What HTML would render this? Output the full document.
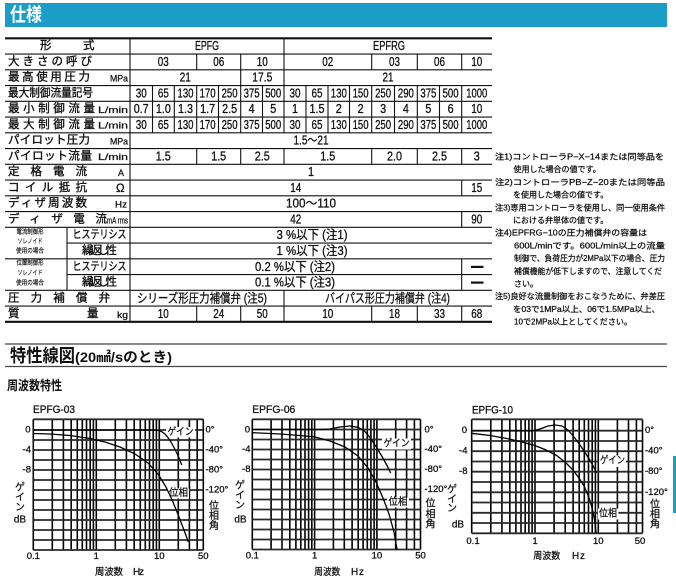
<!DOCTYPE html>
<html><head><meta charset="utf-8"><style>
html,body{margin:0;padding:0;background:#fff;}
svg{display:block}
text{font-family:"Liberation Sans","Noto Sans CJK JP",sans-serif;fill:#111;dominant-baseline:central}
.l{font-size:11.5px;stroke:#111;stroke-width:0.35px}
.n{font-size:12.5px;text-anchor:middle;stroke:#111;stroke-width:0.3px}
.u{font-size:9px;stroke:#111;stroke-width:0.25px}
.s{font-size:6.5px;text-anchor:middle;stroke:#111;stroke-width:0.15px}
.nt{font-size:8px;stroke:#111;stroke-width:0.25px}
.ax{font-size:9.5px;stroke:#111;stroke-width:0.3px}
.c{text-anchor:middle}
.e{text-anchor:end}
.cv{fill:none;stroke:#000;stroke-width:1.3;stroke-linejoin:round}
.lb{font-size:10px;text-anchor:middle;stroke:#111;stroke-width:0.25px}
.gv line{stroke:#000;stroke-width:1.6}
.gh line{stroke:#2a2a2a;stroke-width:1.8}
</style></head><body>
<svg width="676" height="585" viewBox="0 0 676 585" xmlns="http://www.w3.org/2000/svg">
<rect width="676" height="585" fill="#fff"/>
<!-- header bar -->
<rect x="5" y="3" width="662" height="24" fill="#1b9dc8"/>
<text x="10" y="15.5" style="font-size:19px;font-weight:bold;fill:#fff" textLength="32" lengthAdjust="spacingAndGlyphs">仕様</text>

<!-- table lines -->
<g stroke="#111" stroke-width="1.1">
<line x1="5" y1="38.3" x2="492" y2="38.3" stroke-width="2.2"/>
<line x1="5" y1="54.05" x2="492" y2="54.05"/>
<line x1="5" y1="69.8" x2="492" y2="69.8"/>
<line x1="5" y1="85.55" x2="492" y2="85.55"/>
<line x1="5" y1="101.3" x2="492" y2="101.3"/>
<line x1="5" y1="117.05" x2="492" y2="117.05"/>
<line x1="5" y1="132.8" x2="492" y2="132.8"/>
<line x1="5" y1="148.55" x2="492" y2="148.55"/>
<line x1="5" y1="164.3" x2="492" y2="164.3"/>
<line x1="5" y1="180.05" x2="492" y2="180.05"/>
<line x1="5" y1="195.8" x2="492" y2="195.8"/>
<line x1="5" y1="211.55" x2="492" y2="211.55"/>
<line x1="5" y1="227.3" x2="492" y2="227.3"/>
<line x1="67" y1="243.05" x2="492" y2="243.05"/>
<line x1="5" y1="258.8" x2="492" y2="258.8"/>
<line x1="67" y1="274.55" x2="492" y2="274.55"/>
<line x1="5" y1="290.3" x2="492" y2="290.3"/>
<line x1="5" y1="306.05" x2="492" y2="306.05"/>
<line x1="5" y1="321.8" x2="492" y2="321.8" stroke-width="2.2"/>
<line x1="130" y1="38.3" x2="130" y2="321.8"/>
<line x1="67" y1="227.3" x2="67" y2="290.3"/>
<line x1="284" y1="38.3" x2="284" y2="54.05"/>
<line x1="196.7" y1="54.05" x2="196.7" y2="69.8"/>
<line x1="240.7" y1="54.05" x2="240.7" y2="69.8"/>
<line x1="284" y1="54.05" x2="284" y2="69.8"/>
<line x1="371.7" y1="54.05" x2="371.7" y2="69.8"/>
<line x1="417.3" y1="54.05" x2="417.3" y2="69.8"/>
<line x1="461.7" y1="54.05" x2="461.7" y2="69.8"/>
<line x1="240.7" y1="69.8" x2="240.7" y2="85.55"/>
<line x1="284" y1="69.8" x2="284" y2="85.55"/>
<line x1="152.5" y1="85.55" x2="152.5" y2="132.8"/>
<line x1="174.3" y1="85.55" x2="174.3" y2="132.8"/>
<line x1="196.7" y1="85.55" x2="196.7" y2="132.8"/>
<line x1="218.5" y1="85.55" x2="218.5" y2="132.8"/>
<line x1="240.7" y1="85.55" x2="240.7" y2="132.8"/>
<line x1="262.5" y1="85.55" x2="262.5" y2="132.8"/>
<line x1="284" y1="85.55" x2="284" y2="132.8"/>
<line x1="306" y1="85.55" x2="306" y2="132.8"/>
<line x1="328" y1="85.55" x2="328" y2="132.8"/>
<line x1="349.5" y1="85.55" x2="349.5" y2="132.8"/>
<line x1="371.7" y1="85.55" x2="371.7" y2="132.8"/>
<line x1="394.5" y1="85.55" x2="394.5" y2="132.8"/>
<line x1="417.3" y1="85.55" x2="417.3" y2="132.8"/>
<line x1="439.5" y1="85.55" x2="439.5" y2="132.8"/>
<line x1="461.7" y1="85.55" x2="461.7" y2="132.8"/>
<line x1="196.7" y1="148.55" x2="196.7" y2="164.3"/>
<line x1="240.7" y1="148.55" x2="240.7" y2="164.3"/>
<line x1="284" y1="148.55" x2="284" y2="164.3"/>
<line x1="371.7" y1="148.55" x2="371.7" y2="164.3"/>
<line x1="417.3" y1="148.55" x2="417.3" y2="164.3"/>
<line x1="461.7" y1="148.55" x2="461.7" y2="164.3"/>
<line x1="461.7" y1="180.05" x2="461.7" y2="195.8"/>
<line x1="461.7" y1="211.55" x2="461.7" y2="227.3"/>
<line x1="461.7" y1="258.8" x2="461.7" y2="290.3"/>
<line x1="284" y1="290.3" x2="284" y2="306.05"/>
<line x1="196.7" y1="306.05" x2="196.7" y2="321.8"/>
<line x1="240.7" y1="306.05" x2="240.7" y2="321.8"/>
<line x1="284" y1="306.05" x2="284" y2="321.8"/>
<line x1="371.7" y1="306.05" x2="371.7" y2="321.8"/>
<line x1="417.3" y1="306.05" x2="417.3" y2="321.8"/>
<line x1="461.7" y1="306.05" x2="461.7" y2="321.8"/>
</g>

<!-- labels -->
<text class="l" x="40" y="46.2">形</text><text class="l" x="83" y="46.2">式</text>
<text class="l" x="8" y="61.9" textLength="84" lengthAdjust="spacing">大きさの呼び</text>
<text class="l" x="8" y="77.7" textLength="82" lengthAdjust="spacing">最高使用圧力</text>
<text class="u" x="110" y="78.5" textLength="18" lengthAdjust="spacingAndGlyphs">MPa</text>
<text class="l" x="8" y="93.4" textLength="85" lengthAdjust="spacingAndGlyphs">最大制御流量記号</text>
<text class="l" x="8" y="109.2" textLength="87" lengthAdjust="spacing">最小制御流量</text>
<text class="u" x="98" y="110" textLength="30" lengthAdjust="spacingAndGlyphs">L/min</text>
<text class="l" x="8" y="124.9" textLength="87" lengthAdjust="spacing">最大制御流量</text>
<text class="u" x="98" y="125.7" textLength="30" lengthAdjust="spacingAndGlyphs">L/min</text>
<text class="l" x="8" y="140.7" textLength="82" lengthAdjust="spacing">パイロット圧力</text>
<text class="u" x="110" y="141.5" textLength="18" lengthAdjust="spacingAndGlyphs">MPa</text>
<text class="l" x="8" y="156.4" textLength="84" lengthAdjust="spacing">パイロット流量</text>
<text class="u" x="98" y="157.2" textLength="30" lengthAdjust="spacingAndGlyphs">L/min</text>
<text class="l" x="8" y="172.2" textLength="79" lengthAdjust="spacing">定格電流</text>
<text class="u" x="118" y="173">A</text>
<text class="l" x="8" y="188" textLength="79" lengthAdjust="spacing">コイル抵抗</text>
<text class="l" x="116" y="189">Ω</text>
<text class="l" x="8" y="203.7" textLength="79" lengthAdjust="spacing">ディザ周波数</text>
<text class="u" x="115" y="204.5" textLength="12" lengthAdjust="spacingAndGlyphs">Hz</text>
<text class="l" x="8" y="219.5" textLength="99" lengthAdjust="spacing">ディザ電流</text>
<text class="u" x="107" y="220.3" textLength="21" lengthAdjust="spacingAndGlyphs">mA rms</text>
<text class="s" x="30" y="232" textLength="27" lengthAdjust="spacingAndGlyphs">電流制御形</text>
<text class="s" x="30" y="241.5" textLength="25" lengthAdjust="spacingAndGlyphs">ソレノイド</text>
<text class="s" x="30" y="251" textLength="28" lengthAdjust="spacingAndGlyphs">使用の場合</text>
<text class="l c" x="99.5" y="235.2" textLength="54" lengthAdjust="spacingAndGlyphs">ヒステリシス</text>
<text class="l c" x="99.5" y="251" textLength="35" lengthAdjust="spacing">繰返し性</text>
<text class="s" x="30" y="263" textLength="27" lengthAdjust="spacingAndGlyphs">位置制御形</text>
<text class="s" x="30" y="273" textLength="25" lengthAdjust="spacingAndGlyphs">ソレノイド</text>
<text class="s" x="30" y="283" textLength="28" lengthAdjust="spacingAndGlyphs">使用の場合</text>
<text class="l c" x="99.5" y="266.8" textLength="54" lengthAdjust="spacingAndGlyphs">ヒステリシス</text>
<text class="l c" x="99.5" y="282.5" textLength="35" lengthAdjust="spacing">繰返し性</text>
<text class="l" x="8" y="298.3" textLength="102" lengthAdjust="spacing">圧力補償弁</text>
<text class="l" x="8" y="314">質</text><text class="l" x="87" y="314">量</text>
<text class="u" x="117" y="315" textLength="11" lengthAdjust="spacingAndGlyphs">kg</text>

<!-- data -->
<text class="n" x="207" y="46.2" textLength="24" lengthAdjust="spacingAndGlyphs">EPFG</text>
<text class="n" x="389" y="46.2" textLength="32" lengthAdjust="spacingAndGlyphs">EPFRG</text>
<text class="n" x="163.3" y="61.9" textLength="11" lengthAdjust="spacingAndGlyphs">03</text>
<text class="n" x="218.7" y="61.9" textLength="11" lengthAdjust="spacingAndGlyphs">06</text>
<text class="n" x="262.3" y="61.9" textLength="11" lengthAdjust="spacingAndGlyphs">10</text>
<text class="n" x="327.8" y="61.9" textLength="11" lengthAdjust="spacingAndGlyphs">02</text>
<text class="n" x="394.5" y="61.9" textLength="11" lengthAdjust="spacingAndGlyphs">03</text>
<text class="n" x="439.5" y="61.9" textLength="11" lengthAdjust="spacingAndGlyphs">06</text>
<text class="n" x="476.8" y="61.9" textLength="11" lengthAdjust="spacingAndGlyphs">10</text>
<text class="n" x="185.3" y="77.7" textLength="11" lengthAdjust="spacingAndGlyphs">21</text>
<text class="n" x="262.3" y="77.7" textLength="20" lengthAdjust="spacingAndGlyphs">17.5</text>
<text class="n" x="388" y="77.7" textLength="11" lengthAdjust="spacingAndGlyphs">21</text>
<text class="n" x="141.2" y="93.4" textLength="11" lengthAdjust="spacingAndGlyphs">30</text>
<text class="n" x="163.4" y="93.4" textLength="11" lengthAdjust="spacingAndGlyphs">65</text>
<text class="n" x="185.5" y="93.4" textLength="16" lengthAdjust="spacingAndGlyphs">130</text>
<text class="n" x="207.6" y="93.4" textLength="16" lengthAdjust="spacingAndGlyphs">170</text>
<text class="n" x="229.6" y="93.4" textLength="16" lengthAdjust="spacingAndGlyphs">250</text>
<text class="n" x="251.6" y="93.4" textLength="16" lengthAdjust="spacingAndGlyphs">375</text>
<text class="n" x="273.2" y="93.4" textLength="16" lengthAdjust="spacingAndGlyphs">500</text>
<text class="n" x="295" y="93.4" textLength="11" lengthAdjust="spacingAndGlyphs">30</text>
<text class="n" x="317" y="93.4" textLength="11" lengthAdjust="spacingAndGlyphs">65</text>
<text class="n" x="338.8" y="93.4" textLength="16" lengthAdjust="spacingAndGlyphs">130</text>
<text class="n" x="360.6" y="93.4" textLength="16" lengthAdjust="spacingAndGlyphs">150</text>
<text class="n" x="383.1" y="93.4" textLength="16" lengthAdjust="spacingAndGlyphs">250</text>
<text class="n" x="405.9" y="93.4" textLength="16" lengthAdjust="spacingAndGlyphs">290</text>
<text class="n" x="428.4" y="93.4" textLength="16" lengthAdjust="spacingAndGlyphs">375</text>
<text class="n" x="450.6" y="93.4" textLength="16" lengthAdjust="spacingAndGlyphs">500</text>
<text class="n" x="476.8" y="93.4" textLength="21" lengthAdjust="spacingAndGlyphs">1000</text>
<text class="n" x="141.2" y="109.2" textLength="15" lengthAdjust="spacingAndGlyphs">0.7</text>
<text class="n" x="163.4" y="109.2" textLength="15" lengthAdjust="spacingAndGlyphs">1.0</text>
<text class="n" x="185.5" y="109.2" textLength="15" lengthAdjust="spacingAndGlyphs">1.3</text>
<text class="n" x="207.6" y="109.2" textLength="15" lengthAdjust="spacingAndGlyphs">1.7</text>
<text class="n" x="229.6" y="109.2" textLength="15" lengthAdjust="spacingAndGlyphs">2.5</text>
<text class="n" x="251.6" y="109.2" textLength="6" lengthAdjust="spacingAndGlyphs">4</text>
<text class="n" x="273.2" y="109.2" textLength="6" lengthAdjust="spacingAndGlyphs">5</text>
<text class="n" x="295" y="109.2" textLength="6" lengthAdjust="spacingAndGlyphs">1</text>
<text class="n" x="317" y="109.2" textLength="15" lengthAdjust="spacingAndGlyphs">1.5</text>
<text class="n" x="338.8" y="109.2" textLength="6" lengthAdjust="spacingAndGlyphs">2</text>
<text class="n" x="360.6" y="109.2" textLength="6" lengthAdjust="spacingAndGlyphs">2</text>
<text class="n" x="383.1" y="109.2" textLength="6" lengthAdjust="spacingAndGlyphs">3</text>
<text class="n" x="405.9" y="109.2" textLength="6" lengthAdjust="spacingAndGlyphs">4</text>
<text class="n" x="428.4" y="109.2" textLength="6" lengthAdjust="spacingAndGlyphs">5</text>
<text class="n" x="450.6" y="109.2" textLength="6" lengthAdjust="spacingAndGlyphs">6</text>
<text class="n" x="476.8" y="109.2" textLength="11" lengthAdjust="spacingAndGlyphs">10</text>
<text class="n" x="141.2" y="124.9" textLength="11" lengthAdjust="spacingAndGlyphs">30</text>
<text class="n" x="163.4" y="124.9" textLength="11" lengthAdjust="spacingAndGlyphs">65</text>
<text class="n" x="185.5" y="124.9" textLength="16" lengthAdjust="spacingAndGlyphs">130</text>
<text class="n" x="207.6" y="124.9" textLength="16" lengthAdjust="spacingAndGlyphs">170</text>
<text class="n" x="229.6" y="124.9" textLength="16" lengthAdjust="spacingAndGlyphs">250</text>
<text class="n" x="251.6" y="124.9" textLength="16" lengthAdjust="spacingAndGlyphs">375</text>
<text class="n" x="273.2" y="124.9" textLength="16" lengthAdjust="spacingAndGlyphs">500</text>
<text class="n" x="295" y="124.9" textLength="11" lengthAdjust="spacingAndGlyphs">30</text>
<text class="n" x="317" y="124.9" textLength="11" lengthAdjust="spacingAndGlyphs">65</text>
<text class="n" x="338.8" y="124.9" textLength="16" lengthAdjust="spacingAndGlyphs">130</text>
<text class="n" x="360.6" y="124.9" textLength="16" lengthAdjust="spacingAndGlyphs">150</text>
<text class="n" x="383.1" y="124.9" textLength="16" lengthAdjust="spacingAndGlyphs">250</text>
<text class="n" x="405.9" y="124.9" textLength="16" lengthAdjust="spacingAndGlyphs">290</text>
<text class="n" x="428.4" y="124.9" textLength="16" lengthAdjust="spacingAndGlyphs">375</text>
<text class="n" x="450.6" y="124.9" textLength="16" lengthAdjust="spacingAndGlyphs">500</text>
<text class="n" x="476.8" y="124.9" textLength="21" lengthAdjust="spacingAndGlyphs">1000</text>
<text class="n" x="311" y="140.7" textLength="35" lengthAdjust="spacingAndGlyphs">1.5〜21</text>
<text class="n" x="163.3" y="156.4" textLength="15" lengthAdjust="spacingAndGlyphs">1.5</text>
<text class="n" x="218.7" y="156.4" textLength="15" lengthAdjust="spacingAndGlyphs">1.5</text>
<text class="n" x="262.3" y="156.4" textLength="15" lengthAdjust="spacingAndGlyphs">2.5</text>
<text class="n" x="327.8" y="156.4" textLength="15" lengthAdjust="spacingAndGlyphs">1.5</text>
<text class="n" x="394.5" y="156.4" textLength="15" lengthAdjust="spacingAndGlyphs">2.0</text>
<text class="n" x="439.5" y="156.4" textLength="15" lengthAdjust="spacingAndGlyphs">2.5</text>
<text class="n" x="476.8" y="156.4" textLength="6" lengthAdjust="spacingAndGlyphs">3</text>
<text class="n" x="311" y="172.2" textLength="6" lengthAdjust="spacingAndGlyphs">1</text>
<text class="n" x="295.8" y="188" textLength="11" lengthAdjust="spacingAndGlyphs">14</text>
<text class="n" x="476.8" y="188" textLength="11" lengthAdjust="spacingAndGlyphs">15</text>
<text class="n" x="311" y="203.7" textLength="50" lengthAdjust="spacingAndGlyphs">100〜110</text>
<text class="n" x="295.8" y="219.5" textLength="11" lengthAdjust="spacingAndGlyphs">42</text>
<text class="n" x="476.8" y="219.5" textLength="11" lengthAdjust="spacingAndGlyphs">90</text>
<text class="n" x="312" y="235.2" textLength="71" lengthAdjust="spacingAndGlyphs">3 %以下 (注1)</text>
<text class="n" x="312" y="251" textLength="71" lengthAdjust="spacingAndGlyphs">1 %以下 (注3)</text>
<text class="n" x="295" y="266.8" textLength="80" lengthAdjust="spacingAndGlyphs">0.2 %以下 (注2)</text>
<text class="n" x="295" y="282.5" textLength="80" lengthAdjust="spacingAndGlyphs">0.1 %以下 (注3)</text>
<rect x="471" y="265.8" width="12.5" height="2.2" fill="#111"/>
<rect x="471" y="281.5" width="12.5" height="2.2" fill="#111"/>
<text class="n" x="202" y="298.3" textLength="130" lengthAdjust="spacingAndGlyphs">シリーズ形圧力補償弁 (注5)</text>
<text class="n" x="387.5" y="298.3" textLength="125" lengthAdjust="spacingAndGlyphs">バイパス形圧力補償弁 (注4)</text>
<text class="n" x="163.3" y="314" textLength="11" lengthAdjust="spacingAndGlyphs">10</text>
<text class="n" x="218.7" y="314" textLength="11" lengthAdjust="spacingAndGlyphs">24</text>
<text class="n" x="262.3" y="314" textLength="11" lengthAdjust="spacingAndGlyphs">50</text>
<text class="n" x="327.8" y="314" textLength="11" lengthAdjust="spacingAndGlyphs">10</text>
<text class="n" x="394.5" y="314" textLength="11" lengthAdjust="spacingAndGlyphs">18</text>
<text class="n" x="439.5" y="314" textLength="11" lengthAdjust="spacingAndGlyphs">33</text>
<text class="n" x="476.8" y="314" textLength="11" lengthAdjust="spacingAndGlyphs">68</text>

<!-- notes -->
<text class="nt" x="495" y="157" textLength="169" lengthAdjust="spacingAndGlyphs">注1)コントローラP−X−14または同等品を</text>
<text class="nt" x="513.5" y="169.7">使用した場合の値です。</text>
<text class="nt" x="495" y="182.4" textLength="170" lengthAdjust="spacingAndGlyphs">注2)コントローラPB−Z−20または同等品</text>
<text class="nt" x="513" y="195.1">を使用した場合の値です。</text>
<text class="nt" x="495" y="207.8" textLength="170" lengthAdjust="spacingAndGlyphs">注3)専用コントローラを使用し、同一使用条件</text>
<text class="nt" x="513" y="220.5">における弁単体の値です。</text>
<text class="nt" x="495" y="233.2" textLength="152" lengthAdjust="spacingAndGlyphs">注4)EPFRG−10の圧力補償弁の容量は</text>
<text class="nt" x="514" y="245.9" textLength="151" lengthAdjust="spacingAndGlyphs">600L/minです。600L/min以上の流量</text>
<text class="nt" x="514" y="258.6" textLength="151" lengthAdjust="spacingAndGlyphs">制御で、負荷圧力が2MPa以下の場合、圧力</text>
<text class="nt" x="514" y="271.3" textLength="148" lengthAdjust="spacingAndGlyphs">補償機能が低下しますので、注意してくだ</text>
<text class="nt" x="514" y="284">さい。</text>
<text class="nt" x="495" y="296.7" textLength="170" lengthAdjust="spacingAndGlyphs">注5)良好な流量制御をおこなうために、弁差圧</text>
<text class="nt" x="513" y="309.4" textLength="147" lengthAdjust="spacingAndGlyphs">を03で1MPa以上、06で1.5MPa以上、</text>
<text class="nt" x="514" y="322.1" textLength="118" lengthAdjust="spacingAndGlyphs">10で2MPa以上としてください。</text>

<!-- section 2 heading -->
<line x1="5" y1="344" x2="667" y2="344" stroke="#444" stroke-width="1.3"/>
<line x1="5" y1="366.5" x2="667" y2="366.5" stroke="#444" stroke-width="1.3"/>
<text x="10" y="356" style="font-size:18px;font-weight:bold" textLength="65" lengthAdjust="spacingAndGlyphs">特性線図</text>
<text x="75" y="357" style="font-size:14px;font-weight:bold" textLength="97" lengthAdjust="spacingAndGlyphs">(20㎟/sのとき)</text>
<text x="7" y="385.7" style="font-size:13px;font-weight:bold" textLength="55" lengthAdjust="spacingAndGlyphs">周波数特性</text>

<!-- ================= CHART 1 ================= -->
<text x="33" y="410" style="font-size:11px;stroke:#111;stroke-width:0.3px" textLength="42" lengthAdjust="spacingAndGlyphs">EPFG-03</text>
<g class="gv">
<line x1="33.3" y1="419.3" x2="33.3" y2="550"/><line x1="52.3" y1="419.3" x2="52.3" y2="550"/><line x1="63.4" y1="419.3" x2="63.4" y2="550"/><line x1="71.2" y1="419.3" x2="71.2" y2="550"/><line x1="77.3" y1="419.3" x2="77.3" y2="550"/><line x1="82.3" y1="419.3" x2="82.3" y2="550"/><line x1="86.5" y1="419.3" x2="86.5" y2="550"/><line x1="90.2" y1="419.3" x2="90.2" y2="550"/><line x1="93.4" y1="419.3" x2="93.4" y2="550"/>
<line x1="96.3" y1="419.3" x2="96.3" y2="550"/><line x1="115.3" y1="419.3" x2="115.3" y2="550"/><line x1="126.4" y1="419.3" x2="126.4" y2="550"/><line x1="134.2" y1="419.3" x2="134.2" y2="550"/><line x1="140.3" y1="419.3" x2="140.3" y2="550"/><line x1="145.3" y1="419.3" x2="145.3" y2="550"/><line x1="149.5" y1="419.3" x2="149.5" y2="550"/><line x1="153.2" y1="419.3" x2="153.2" y2="550"/><line x1="156.4" y1="419.3" x2="156.4" y2="550"/>
<line x1="159.3" y1="419.3" x2="159.3" y2="550"/><line x1="178.3" y1="419.3" x2="178.3" y2="550"/><line x1="189.4" y1="419.3" x2="189.4" y2="550"/><line x1="197.2" y1="419.3" x2="197.2" y2="550"/><line x1="203.3" y1="419.3" x2="203.3" y2="550"/>
</g>
<g class="gh">
<line x1="33.3" y1="419.3" x2="203.3" y2="419.3"/><line x1="33.3" y1="430" x2="203.3" y2="430"/><line x1="33.3" y1="440" x2="203.3" y2="440"/><line x1="33.3" y1="450" x2="203.3" y2="450"/><line x1="33.3" y1="460" x2="203.3" y2="460"/><line x1="33.3" y1="470" x2="203.3" y2="470"/><line x1="33.3" y1="480" x2="203.3" y2="480"/><line x1="33.3" y1="490" x2="203.3" y2="490"/><line x1="33.3" y1="500" x2="203.3" y2="500"/><line x1="33.3" y1="510" x2="203.3" y2="510"/><line x1="33.3" y1="520" x2="203.3" y2="520"/><line x1="33.3" y1="530" x2="203.3" y2="530"/><line x1="33.3" y1="540" x2="203.3" y2="540"/><line x1="33.3" y1="550" x2="203.3" y2="550"/>
</g>
<rect x="166" y="427" width="29" height="10.5" fill="#fff"/>
<rect x="168" y="488.5" width="21" height="10" fill="#fff"/>
<polyline class="cv" points="33.3,430 155,430 159,430.6 162,431.8 165,434 168,437.6 171,442 174,447.5 177,453.5 179.5,459 181.7,465"/>
<polyline class="cv" points="33.3,433.5 50,434 70,435.5 90,438.5 105,442 120,447 135,454 148,463 158,474 166,487 173,502 179,517 184,530 188.3,542"/>
<text class="lb" x="180.5" y="432.3" textLength="26" lengthAdjust="spacingAndGlyphs">ゲイン</text>
<text class="lb" x="178.5" y="493.5" textLength="19" lengthAdjust="spacingAndGlyphs">位相</text>
<text class="ax e" x="30.5" y="430">0</text>
<text class="ax e" x="31" y="450">-4</text>
<text class="ax e" x="31" y="470">-8</text>
<text class="ax" x="205.5" y="430">0°</text>
<text class="ax" x="205.5" y="450">-40°</text>
<text class="ax" x="205.5" y="470">-80°</text>
<text class="ax" x="205.5" y="490">-120°</text>
<text class="lb" x="20" y="488">ゲ</text><text class="lb" x="20" y="498">イ</text><text class="lb" x="20" y="508">ン</text>
<text class="lb" x="20" y="520">dB</text>
<text class="lb" x="214" y="506.7">位</text><text class="lb" x="214" y="516.7">相</text><text class="lb" x="214" y="526.7">角</text>
<text class="ax c" x="33.3" y="556.7">0.1</text>
<text class="ax c" x="96.3" y="556.7">1</text>
<text class="ax c" x="159.3" y="556.7">10</text>
<text class="ax c" x="203.3" y="556.7">50</text>
<text class="lb" x="109" y="572.3" style="font-size:9.5px" textLength="28" lengthAdjust="spacingAndGlyphs">周波数</text>
<text class="lb" x="138.5" y="572.3" textLength="11" lengthAdjust="spacing">Hz</text>

<!-- ================= CHART 2 ================= -->
<text x="252.3" y="410" style="font-size:11px;stroke:#111;stroke-width:0.3px" textLength="43" lengthAdjust="spacingAndGlyphs">EPFG-06</text>
<g class="gv">
<line x1="252.3" y1="419.3" x2="252.3" y2="549.5"/><line x1="271.1" y1="419.3" x2="271.1" y2="549.5"/><line x1="282" y1="419.3" x2="282" y2="549.5"/><line x1="289.8" y1="419.3" x2="289.8" y2="549.5"/><line x1="295.9" y1="419.3" x2="295.9" y2="549.5"/><line x1="300.8" y1="419.3" x2="300.8" y2="549.5"/><line x1="305" y1="419.3" x2="305" y2="549.5"/><line x1="308.6" y1="419.3" x2="308.6" y2="549.5"/><line x1="311.8" y1="419.3" x2="311.8" y2="549.5"/>
<line x1="314.6" y1="419.3" x2="314.6" y2="549.5"/><line x1="333.4" y1="419.3" x2="333.4" y2="549.5"/><line x1="344.3" y1="419.3" x2="344.3" y2="549.5"/><line x1="352.1" y1="419.3" x2="352.1" y2="549.5"/><line x1="358.2" y1="419.3" x2="358.2" y2="549.5"/><line x1="363.1" y1="419.3" x2="363.1" y2="549.5"/><line x1="367.3" y1="419.3" x2="367.3" y2="549.5"/><line x1="370.9" y1="419.3" x2="370.9" y2="549.5"/><line x1="374.1" y1="419.3" x2="374.1" y2="549.5"/>
<line x1="376.9" y1="419.3" x2="376.9" y2="549.5"/><line x1="395.7" y1="419.3" x2="395.7" y2="549.5"/><line x1="406.6" y1="419.3" x2="406.6" y2="549.5"/><line x1="414.4" y1="419.3" x2="414.4" y2="549.5"/><line x1="420.5" y1="419.3" x2="420.5" y2="549.5"/>
</g>
<g class="gh">
<line x1="252.3" y1="419.3" x2="420.5" y2="419.3"/><line x1="252.3" y1="429.5" x2="420.5" y2="429.5"/><line x1="252.3" y1="439.5" x2="420.5" y2="439.5"/><line x1="252.3" y1="449.5" x2="420.5" y2="449.5"/><line x1="252.3" y1="459.5" x2="420.5" y2="459.5"/><line x1="252.3" y1="469.5" x2="420.5" y2="469.5"/><line x1="252.3" y1="479.5" x2="420.5" y2="479.5"/><line x1="252.3" y1="489.5" x2="420.5" y2="489.5"/><line x1="252.3" y1="499.5" x2="420.5" y2="499.5"/><line x1="252.3" y1="509.5" x2="420.5" y2="509.5"/><line x1="252.3" y1="519.5" x2="420.5" y2="519.5"/><line x1="252.3" y1="529.5" x2="420.5" y2="529.5"/><line x1="252.3" y1="539.5" x2="420.5" y2="539.5"/><line x1="252.3" y1="549.5" x2="420.5" y2="549.5"/>
</g>
<rect x="382" y="438.5" width="29" height="11" fill="#fff"/>
<rect x="387" y="497.5" width="22" height="10" fill="#fff"/>
<polyline class="cv" points="252.3,429.5 320,429.5 330,429 340,427 350,426 358,427.3 364,430.5 370,437.5 376,446.5 382,456.5 387,465.5 390.7,473"/>
<polyline class="cv" points="252.3,432.7 280,434 300,435.5 315,437 330,441 345,447 358,456 368,468 376,482 383,498 389,514 394,532 397,549.5"/>
<text class="lb" x="396.5" y="444" textLength="26" lengthAdjust="spacingAndGlyphs">ゲイン</text>
<text class="lb" x="398" y="502.5" textLength="19" lengthAdjust="spacingAndGlyphs">位相</text>
<text class="ax e" x="250" y="430">0</text>
<text class="ax e" x="250.5" y="449.5">-4</text>
<text class="ax e" x="250.5" y="469.5">-8</text>
<text class="ax" x="424.5" y="430">0°</text>
<text class="ax" x="424.5" y="449.5">-40°</text>
<text class="ax" x="424.5" y="469.5">-80°</text>
<text class="ax" x="424.5" y="489.5">-120°</text>
<text class="lb" x="240" y="486">ゲ</text><text class="lb" x="240" y="496">イ</text><text class="lb" x="240" y="506">ン</text>
<text class="lb" x="240.5" y="520">dB</text>
<text class="lb" x="430.5" y="504">位</text><text class="lb" x="430.5" y="515">相</text><text class="lb" x="430.5" y="525">角</text>
<text class="ax c" x="252.3" y="556">0.1</text>
<text class="ax c" x="314.6" y="556">1</text>
<text class="ax c" x="376.9" y="556">10</text>
<text class="ax c" x="420.5" y="556">50</text>
<text class="lb" x="327.3" y="572.7" style="font-size:9.5px" textLength="26" lengthAdjust="spacingAndGlyphs">周波数</text>
<text class="lb" x="357.5" y="572.7" textLength="13" lengthAdjust="spacing">Hz</text>

<!-- ================= CHART 3 ================= -->
<text x="472" y="410.7" style="font-size:11px;stroke:#111;stroke-width:0.3px" textLength="41" lengthAdjust="spacingAndGlyphs">EPFG-10</text>
<g class="gv">
<line x1="471.7" y1="419.3" x2="471.7" y2="533.3"/><line x1="490.8" y1="419.3" x2="490.8" y2="533.3"/><line x1="501.9" y1="419.3" x2="501.9" y2="533.3"/><line x1="509.8" y1="419.3" x2="509.8" y2="533.3"/><line x1="515.9" y1="419.3" x2="515.9" y2="533.3"/><line x1="521" y1="419.3" x2="521" y2="533.3"/><line x1="525.2" y1="419.3" x2="525.2" y2="533.3"/><line x1="528.9" y1="419.3" x2="528.9" y2="533.3"/><line x1="532.1" y1="419.3" x2="532.1" y2="533.3"/>
<line x1="535" y1="419.3" x2="535" y2="533.3"/><line x1="554.1" y1="419.3" x2="554.1" y2="533.3"/><line x1="565.2" y1="419.3" x2="565.2" y2="533.3"/><line x1="573.1" y1="419.3" x2="573.1" y2="533.3"/><line x1="579.2" y1="419.3" x2="579.2" y2="533.3"/><line x1="584.3" y1="419.3" x2="584.3" y2="533.3"/><line x1="588.5" y1="419.3" x2="588.5" y2="533.3"/><line x1="592.2" y1="419.3" x2="592.2" y2="533.3"/><line x1="595.4" y1="419.3" x2="595.4" y2="533.3"/>
<line x1="598.3" y1="419.3" x2="598.3" y2="533.3"/><line x1="617.4" y1="419.3" x2="617.4" y2="533.3"/><line x1="628.5" y1="419.3" x2="628.5" y2="533.3"/><line x1="636.4" y1="419.3" x2="636.4" y2="533.3"/><line x1="642.5" y1="419.3" x2="642.5" y2="533.3"/>
</g>
<g class="gh">
<line x1="471.7" y1="419.3" x2="642.5" y2="419.3"/><line x1="471.7" y1="430.7" x2="642.5" y2="430.7"/><line x1="471.7" y1="441" x2="642.5" y2="441"/><line x1="471.7" y1="451.2" x2="642.5" y2="451.2"/><line x1="471.7" y1="461.5" x2="642.5" y2="461.5"/><line x1="471.7" y1="471.7" x2="642.5" y2="471.7"/><line x1="471.7" y1="482" x2="642.5" y2="482"/><line x1="471.7" y1="492.3" x2="642.5" y2="492.3"/><line x1="471.7" y1="502.5" x2="642.5" y2="502.5"/><line x1="471.7" y1="512.8" x2="642.5" y2="512.8"/><line x1="471.7" y1="523" x2="642.5" y2="523"/><line x1="471.7" y1="533.3" x2="642.5" y2="533.3"/>
</g>
<rect x="599" y="455.5" width="27" height="11.5" fill="#fff"/>
<rect x="598" y="508.5" width="20.5" height="11" fill="#fff"/>
<polyline class="cv" points="471.7,430.7 533,430.7 540,429 548,426 555,425 562,426 568,430 574,437 580,445 586,454 591,462 596.7,473"/>
<polyline class="cv" points="471.7,433.3 490,435.5 506.7,438.5 520,441.5 533.3,445 545,449.5 556.7,455.5 566,463 573,470 579,478 584,486 588,495 591,504 593.3,513 595,523 596.2,533.3"/>
<text class="lb" x="612.5" y="461" textLength="25" lengthAdjust="spacingAndGlyphs">ゲイン</text>
<text class="lb" x="608" y="514" textLength="18" lengthAdjust="spacingAndGlyphs">位相</text>
<text class="ax e" x="467" y="430.7">0</text>
<text class="ax e" x="467.5" y="451.2">-4</text>
<text class="ax e" x="467.5" y="471.7">-8</text>
<text class="ax" x="645" y="430.7">0°</text>
<text class="ax" x="645" y="451.2">-40°</text>
<text class="ax" x="645" y="471.7">-80°</text>
<text class="ax" x="645" y="492.3">-120°</text>
<text class="lb" x="452" y="490">ゲ</text><text class="lb" x="452" y="500">イ</text><text class="lb" x="452" y="509">ン</text>
<text class="lb" x="458" y="525">dB</text>
<text class="lb" x="655" y="505">位</text><text class="lb" x="655" y="515">相</text><text class="lb" x="655" y="525">角</text>
<text class="ax c" x="473" y="541.7">0.1</text>
<text class="ax c" x="535" y="541.7">1</text>
<text class="ax c" x="598.3" y="541.7">10</text>
<text class="ax c" x="640" y="541.7">50</text>
<text class="lb" x="546.8" y="556.7" style="font-size:9.5px" textLength="27" lengthAdjust="spacingAndGlyphs">周波数</text>
<text class="lb" x="578.5" y="556.7" textLength="13" lengthAdjust="spacing">Hz</text>

<!-- right edge tab -->
<rect x="673" y="456" width="4" height="57" fill="#1b9dc8"/>
</svg>
</body></html>
